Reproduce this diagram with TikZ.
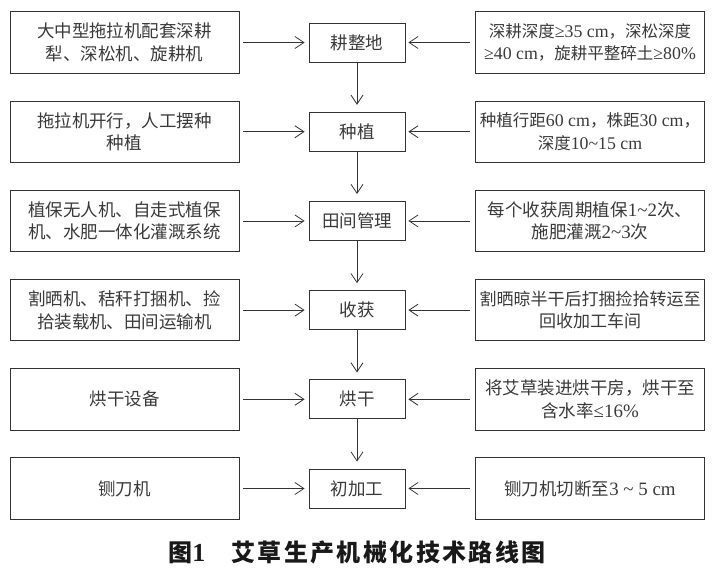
\documentclass[tikz,border=0pt]{standalone}
\usepackage{fontspec}
\setmainfont{Liberation Serif}
\newfontfamily\cjkfont{Noto Sans CJK SC}
\newfontfamily\latinfont[Scale=1.08]{Liberation Serif}
\newcommand\ltn[1]{{\latinfont #1}}
\usetikzlibrary{arrows.meta}
\definecolor{linec}{HTML}{333333}
\definecolor{textc}{HTML}{3A3A3A}
\tikzset{
  sidebox/.style={draw=linec, line width=0.8pt, minimum width=229pt, minimum height=61.5pt, inner sep=0pt, align=center, text=textc, font=\cjkfont\fontsize{17.5}{22.5}\selectfont},
  smallside/.style={font=\cjkfont\fontsize{16.5}{22.5}\selectfont},
  stepbox/.style={draw=linec, line width=0.8pt, minimum width=96pt, minimum height=39pt, inner sep=0pt, align=center, text=textc, font=\cjkfont\fontsize{17.5}{22}\selectfont},
  arr/.style={draw=linec, line width=0.8pt, -{Straight Barb[length=9pt,width=12pt]}},
}
\begin{document}
\begin{tikzpicture}[x=1pt,y=-1pt]
\useasboundingbox[fill=white] (0,0) rectangle (723,571);
% rows
\def\ra{42.5}\def\rb{131.7}\def\rc{220.9}\def\rd{310.1}\def\re{399.3}\def\rf{488.5}
\node[sidebox] (L1) at (124.5,\ra) {大中型拖拉机配套深耕\\犁、深松机、旋耕机};
\node[stepbox] (C1) at (357,\ra) {耕整地};
\node[sidebox, smallside] (R1) at (590,\ra) {深耕深度\ltn{≥35\ cm}，深松深度\\\ltn{≥40\ cm}，旋耕平整碎土\ltn{≥80\%}};

\node[sidebox] (L2) at (124.5,\rb) {拖拉机开行，人工摆种\\种植};
\node[stepbox] (C2) at (357,\rb) {种植};
\node[sidebox, smallside] (R2) at (590,\rb) {种植行距\ltn{60\ cm}，株距\ltn{30\ cm}，\\深度\ltn{10\textasciitilde 15\ cm}};

\node[sidebox] (L3) at (124.5,\rc) {植保无人机、自走式植保\\机、水肥一体化灌溉系统};
\node[stepbox] (C3) at (357,\rc) {田间管理};
\node[sidebox] (R3) at (590,\rc) {每个收获周期植保\ltn{1\textasciitilde 2}次、\\施肥灌溉\ltn{2\textasciitilde 3}次};

\node[sidebox] (L4) at (124.5,\rd) {割晒机、秸秆打捆机、捡\\拾装载机、田间运输机};
\node[stepbox] (C4) at (357,\rd) {收获};
\node[sidebox, font=\cjkfont\fontsize{17}{22.5}\selectfont] (R4) at (590,\rd) {割晒晾半干后打捆捡拾转运至\\回收加工车间};

\node[sidebox] (L5) at (124.5,\re) {烘干设备};
\node[stepbox] (C5) at (357,\re) {烘干};
\node[sidebox] (R5) at (590,\re) {将艾草装进烘干房，烘干至\\含水率\ltn{≤16\%}};

\node[sidebox] (L6) at (124.5,\rf) {铡刀机};
\node[stepbox] (C6) at (357,\rf) {初加工};
\node[sidebox] (R6) at (590,\rf) {铡刀机切断至\ltn{3 \textasciitilde\ 5\ cm}};

\foreach \i in {1,...,6}{
  \draw[arr, shorten <=4pt, shorten >=4pt] (L\i.east) -- (C\i.west);
  \draw[arr, shorten <=5pt, shorten >=3pt] (R\i.west) -- (C\i.east);
}
\foreach \i/\j in {1/2,2/3,3/4,4/5,5/6}{
  \draw[arr, shorten >=7pt] (C\i.south) -- (C\j.north);
}

\node[text=black!90, font=\cjkfont\bfseries\fontsize{24}{24}\selectfont, inner sep=0pt] (cap) at (357,552)
  {\addfontfeature{LetterSpace=10}图{\latinfont\bfseries 1}\hspace{26pt}艾草生产机械化技术路线图};
\end{tikzpicture}
\end{document}
